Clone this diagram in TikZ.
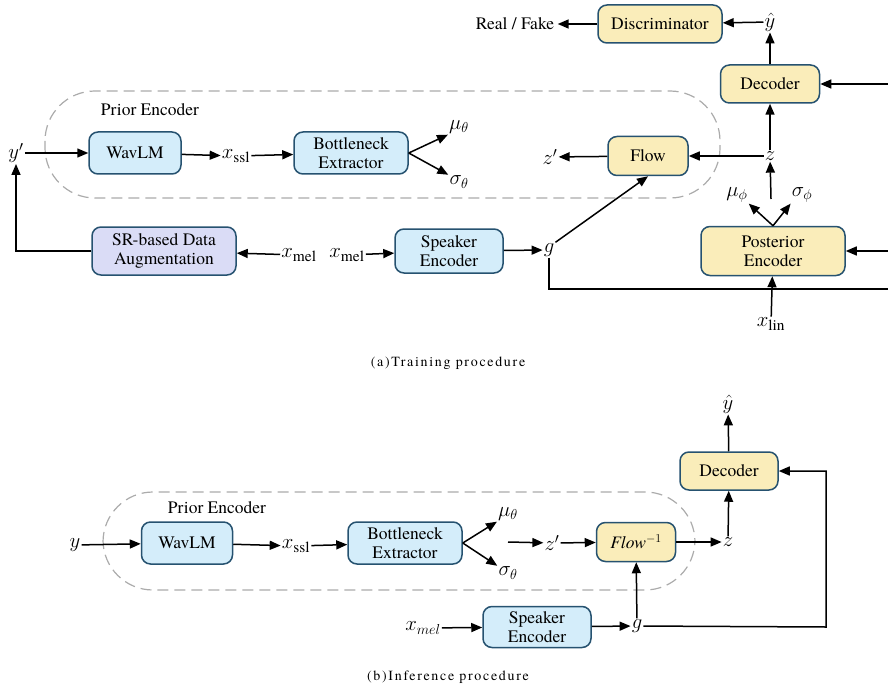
\documentclass[tikz,border=0pt]{standalone}
\usepackage{fontspec}
\setmainfont{texgyretermes}[Extension=.otf, UprightFont=*-regular, ItalicFont=*-italic, BoldFont=*-bold, BoldItalicFont=*-bolditalic]
\usepackage{tikz}
\usetikzlibrary{positioning,arrows.meta}
\definecolor{boxline}{RGB}{38,82,112}
\definecolor{bluefill}{RGB}{212,237,250}
\definecolor{yellowfill}{RGB}{250,237,186}
\definecolor{lavfill}{RGB}{218,220,246}
\tikzset{
  block/.style={rectangle, rounded corners=9pt, draw=boxline, line width=1.5pt, align=center, inner sep=2pt, font=\fontsize{17.5}{19}\selectfont},
  blue/.style={fill=bluefill},
  yellow/.style={fill=yellowfill},
  lav/.style={fill=lavfill},
  var/.style={inner sep=1pt, font=\fontsize{22}{24}\selectfont},
  fwd/.style={-{Triangle[length=11pt,width=9pt]}, line width=1.5pt},
  region/.style={draw=black!33, dash pattern=on 11pt off 6pt, line width=1.2pt, rounded corners=50pt},
  caption/.style={font=\fontsize{14}{16}\selectfont\addfontfeatures{LetterSpace=12}},
}

\begin{document}
\begin{tikzpicture}[x=1pt,y=-1pt]
\useasboundingbox (0,0) rectangle (888,687);

%Regions
\draw[region] (45,91) rectangle (720,198);
\draw[region] (103,492) rectangle (695,590);

%Nodes (a)
\node[font=\fontsize{17.5}{19}\selectfont] (peA) at (150,110) {Prior Encoder};
\node[var] (yp) at (16,153) {$y'$};
\node[block, blue, minimum width=92pt, minimum height=42pt] (wavA) at (135,153) {WavLM};
\node[var] (xsslA) at (236,156) {$x_{\mathrm{ssl}}$};
\node[block, blue, minimum width=114pt, minimum height=42pt] (bneA) at (351,153) {Bottleneck\\Extractor};
\node[var] (muA) at (459,127) {$\mu_\theta$};
\node[var] (sigA) at (459,182) {$\sigma_\theta$};
\node[block, yellow, minimum width=80pt, minimum height=39pt] (flowA) at (648,156) {Flow};
\node[var] (zpA) at (550,157) {$z'$};
\node[var] (zA) at (770,156) {$z$};
\node[block, yellow, minimum width=99pt, minimum height=38pt] (decA) at (770,84) {Decoder};
\node[var] (yhatA) at (770,22) {$\hat{y}$};
\node[block, yellow, minimum width=124pt, minimum height=38pt] (discA) at (660,24) {Discriminator};
\node[font=\fontsize{17.5}{19}\selectfont] (rf) at (515,24) {Real / Fake};
\node[block, yellow, minimum width=144pt, minimum height=49pt] (postA) at (773,251) {Posterior\\Encoder};
\node[var] (muphi) at (737,195) {$\mu_\phi$};
\node[var] (sigphi) at (802,195) {$\sigma_\phi$};
\coordinate (zsrc) at (771,199);
\node[var] (xlin) at (771,324) {$x_{\mathrm{lin}}$};
\node[block, lav, minimum width=144pt, minimum height=48pt] (sr) at (164,251) {SR-based Data\\Augmentation};
\node[var] (xmelA) at (299,255) {$x_{\mathrm{mel}}$};
\node[var] (xmelB) at (347,255) {$x_{\mathrm{mel}}$};
\node[block, blue, minimum width=108pt, minimum height=44pt] (spkA) at (449,251) {Speaker\\Encoder};
\node[var] (gA) at (549,250) {$g$};
\coordinate (decin) at (888,84);
\coordinate (postin) at (888,251);
\coordinate (gend) at (888,289);
\node[caption] (capA) at (448,363) {(a)Training procedure};

%Lines (a)
\draw[fwd] (yp) -- (wavA);
\draw[fwd] (wavA) -- (xsslA);
\draw[fwd] (xsslA) -- (bneA);
\draw[fwd] (bneA.east) -- (muA.south west);
\draw[fwd] (bneA.east) -- (sigA.north west);
\draw[fwd] (zA) -- (flowA);
\draw[fwd] (flowA) -- (zpA);
\draw[fwd] (zA) -- (decA);
\draw[fwd] (decA) -- (yhatA);
\draw[fwd] (yhatA) -- (discA);
\draw[fwd] (discA) -- (rf);
\draw[fwd] (decin) -- (decA);
\draw[fwd] (postin) -- (postA);
\draw[fwd] (postA.north) -- (muphi.south east);
\draw[fwd] (postA.north) -- (sigphi.south west);
\draw[fwd] (zsrc) -- (zA);
\draw[fwd] (xlin) -- (postA);
\draw[line width=1.5pt] (gA.south) |- (gend);
\draw[fwd] (gA.north east) -- (flowA.south);
\draw[fwd] (xmelA) -- (sr);
\draw[fwd] (xmelB) -- (spkA);
\draw[fwd] (spkA) -- (gA);
\draw[fwd] (sr.west) -| (yp.south);

%Nodes (b)
\node[font=\fontsize{17.5}{19}\selectfont] (peB) at (217,508) {Prior Encoder};
\node[var] (yB) at (75,545) {$y$};
\node[block, blue, minimum width=91pt, minimum height=42pt] (wavB) at (187,543) {WavLM};
\node[var] (xsslB) at (296,546) {$x_{\mathrm{ssl}}$};
\node[block, blue, minimum width=114pt, minimum height=42pt] (bneB) at (405,543) {Bottleneck\\Extractor};
\node[var] (muB) at (508,514) {$\mu_\theta$};
\node[var] (sigB) at (508,573) {$\sigma_\theta$};
\coordinate (zpsrc) at (508,542);
\node[var] (zpB) at (552,543) {$z'$};
\node[block, yellow, minimum width=79pt, minimum height=39pt] (flowB) at (636,542) {\textit{Flow}$^{-1}$};
\node[var] (zB) at (728,542) {$z$};
\node[block, yellow, minimum width=98pt, minimum height=38pt] (decB) at (729,471) {Decoder};
\node[var] (yhatB) at (728,404) {$\hat{y}$};
\node[var] (xmelC) at (423,628) {$x_{mel}$};
\node[block, blue, minimum width=108pt, minimum height=41pt] (spkB) at (537,627) {Speaker\\Encoder};
\node[var] (gB) at (637,626) {$g$};
\coordinate (gturn) at (826,627);
\node[caption] (capB) at (448,677) {(b)Inference procedure};

%Lines (b)
\draw[fwd] (yB) -- (wavB);
\draw[fwd] (wavB) -- (xsslB);
\draw[fwd] (xsslB) -- (bneB);
\draw[fwd] (bneB.east) -- (muB.south west);
\draw[fwd] (bneB.east) -- (sigB.north west);
\draw[fwd] (zpsrc) -- (zpB);
\draw[fwd] (zpB) -- (flowB);
\draw[fwd] (flowB) -- (zB);
\draw[fwd] (zB) -- (decB);
\draw[fwd] (decB) -- (yhatB);
\draw[fwd] (xmelC) -- (spkB);
\draw[fwd] (spkB) -- (gB);
\draw[fwd] (gB) -- (flowB);
\draw[fwd] (gB) -- (gturn) |- (decB);
\end{tikzpicture}
\end{document}
